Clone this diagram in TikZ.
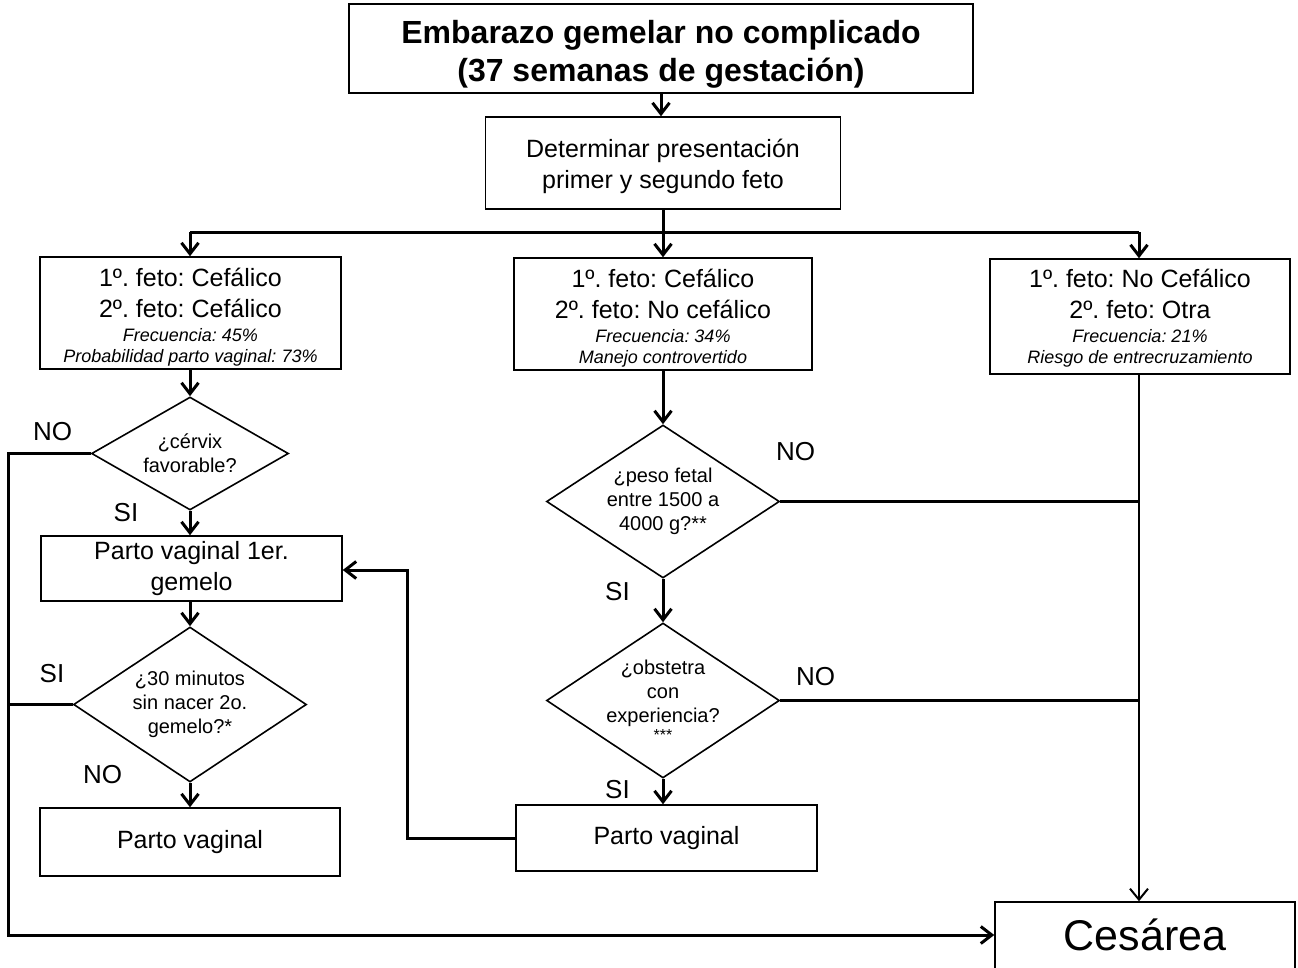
\documentclass[tikz,border=0pt]{standalone}
\usepackage{fontspec}
\setmainfont{Liberation Sans}
\usetikzlibrary{shapes.geometric,arrows.meta}
\newcommand\smit[1]{{\fontsize{18}{22}\selectfont\itshape #1}}
\frenchspacing
\begin{document}
\begin{tikzpicture}[x=1pt,y=-1pt,
  box/.style={draw,line width=1.5pt,rectangle,align=center,inner sep=0pt,font=\fontsize{25}{31}\selectfont\frenchspacing},
  dia/.style={draw,line width=1.6pt,diamond,aspect=1.5,align=center,inner sep=-8pt,font=\fontsize{20}{24}\selectfont\frenchspacing},
  conn/.style={line width=3pt},
  arr/.style={conn,-{Straight Barb[length=11pt,width=17pt]}},
  thinarr/.style={line width=2pt,-{Straight Barb[length=11pt,width=18pt]}},
  lbl/.style={font=\fontsize{26}{30}\selectfont,inner sep=0pt}
]
\useasboundingbox (0,0) rectangle (1298,967);
\clip (0,0) rectangle (1298,967);

% boxes
\node[box,minimum width=624pt,minimum height=89pt,font=\bfseries\fontsize{32}{38}\selectfont] (top) at (661,48.5)
  {\rule{0pt}{34pt}Embarazo gemelar no complicado\\(37 semanas de gestación)};
\node[box,minimum width=355pt,minimum height=92pt] (det) at (663,163)
  {\rule{0pt}{25pt}Determinar presentación\\primer y segundo feto};
\node[box,minimum width=301pt,minimum height=112pt] (c1) at (190.5,313)
  {\rule{0pt}{27pt}1º. feto: Cefálico\\2º. feto: Cefálico\\[-6.5pt]\smit{Frecuencia: 45\%}\\[-10pt]\smit{Probabilidad parto vaginal: 73\%}};
\node[box,minimum width=298pt,minimum height=112pt] (c2) at (663,314)
  {\rule{0pt}{27pt}1º. feto: Cefálico\\2º. feto: No cefálico\\[-6.5pt]\smit{Frecuencia: 34\%}\\[-10pt]\smit{Manejo controvertido}};
\node[box,minimum width=300pt,minimum height=115pt] (c3) at (1140,316.5)
  {\rule{0pt}{22pt}1º. feto: No Cefálico\\2º. feto: Otra\\[-6.5pt]\smit{Frecuencia: 21\%}\\[-10pt]\smit{Riesgo de entrecruzamiento}};

\node[dia,aspect=1.74,minimum width=197pt,minimum height=113pt] (d1) at (190,453.5) {¿cérvix\\favorable?};
\node[box,minimum width=301pt,minimum height=65pt] (pv1) at (191.5,568.5) {Parto vaginal 1er.\\gemelo};
\node[dia,minimum width=233pt,minimum height=155pt] (d2) at (190,704.5) {¿30 minutos\\sin nacer 2o.\\gemelo?*};
\node[box,minimum width=300pt,minimum height=68pt] (pvl) at (190,842) {Parto vaginal};

\node[dia,minimum width=233pt,minimum height=153pt] (d3) at (663,501.5) {¿peso fetal\\entre 1500 a\\4000 g?**};
\node[dia,minimum width=233pt,minimum height=155pt] (d4) at (663,700.5) {¿obstetra\\con\\experiencia?\\[-6pt]{\fontsize{16}{18}\selectfont ***}};
\node[box,minimum width=301pt,minimum height=66pt] (pvm) at (666.5,838) {Parto vaginal};

\node[box,minimum width=300pt,minimum height=78pt,font=\fontsize{43}{50}\selectfont,text height=31pt,text depth=13pt] (ces) at (1145,941) {Cesárea};

% labels
\node[lbl] (no1) at (52.5,431.5) {NO};
\node[lbl] (si1) at (126,513) {SI};
\node[lbl] (si2) at (52,674) {SI};
\node[lbl] (no2) at (102.5,775) {NO};
\node[lbl] (no3) at (795.5,452) {NO};
\node[lbl] (si3) at (617.5,591.5) {SI};
\node[lbl] (no4) at (815.5,677) {NO};
\node[lbl] (si4) at (617.5,790) {SI};

% coordinates
\coordinate (hl) at (190,232);
\coordinate (hr) at (1139,232);
\coordinate (lbot) at (8,935);
\coordinate (fb) at (407,570);

% connectors
\draw[arr] (top.south) -- (top.south |- det.north);
\draw[conn] (hl) -- (hr);
\draw[arr] (det.south) -- (det.south |- c2.north);
\draw[arr] (hl) -- (hl |- c1.north);
\draw[arr] (hr) -- (hr |- c3.north);

\draw[arr] (c1.south -| d1.north) -- (d1.north);
\draw[arr] (d1.south) -- (d1.south |- pv1.north);
\draw[arr] (pv1.south -| d2.north) -- (d2.north);
\draw[arr] (d2.south) -- (d2.south |- pvl.north);
\draw[arr] (d1.west) -| (lbot) -- (lbot -| ces.west);
\draw[conn] (d2.west) -- (d2.west -| lbot);

\draw[arr] (c2.south) -- (d3.north);
\draw[arr] (d3.south) -- (d4.north);
\draw[arr] (d4.south) -- (d4.south |- pvm.north);
\draw[arr] (pvm.west) -| (fb) -- (fb -| pv1.east);

\draw[thinarr] (c3.south -| hr) -- (hr |- ces.north);
\draw[conn] (d3.east) -- (d3.east -| hr);
\draw[conn] (d4.east) -- (d4.east -| hr);
\end{tikzpicture}
\end{document}
